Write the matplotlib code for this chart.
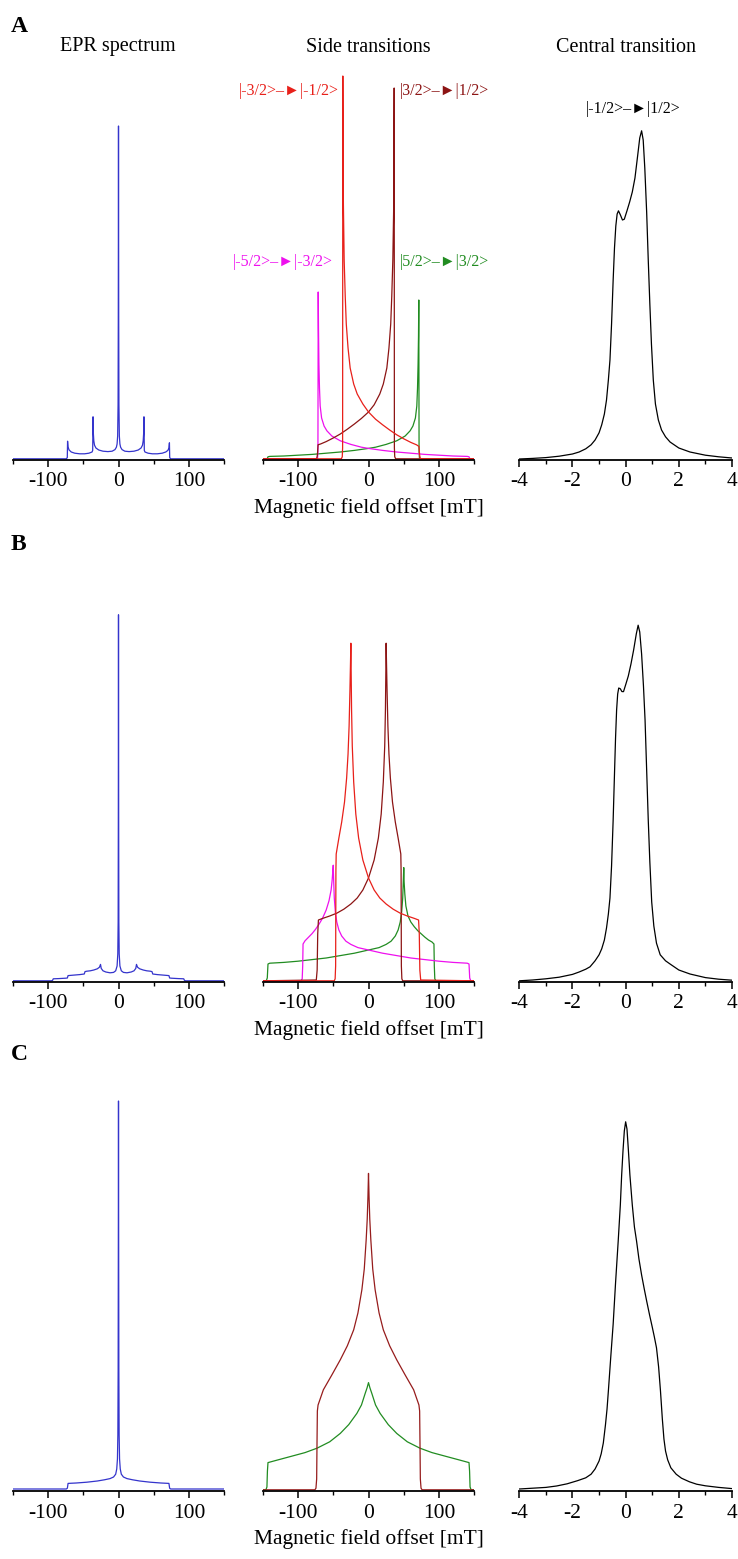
import matplotlib
matplotlib.use("Agg")
import matplotlib.pyplot as plt
from matplotlib.ticker import MultipleLocator

plt.rcParams['font.family'] = ['Liberation Serif', 'DejaVu Sans']
plt.rcParams['axes.unicode_minus'] = False

# ---------------- data (intensity in arbitrary units, field in mT) ----------------
# Row A
A_epr_x = [-150, -74, -72.6, -72.2, -71.5, -70, -67, -62, -55, -48, -42, -39, -37.5, -36.6, -36.1,
           -35.6, -35, -34, -32, -28, -22, -15, -9, -5, -3, -2, -1.2, -0.6, -0.3, 0,
           0.3, 0.6, 1.2, 2, 3, 5, 9, 15, 22, 28, 32, 34, 35, 35.6, 36.1, 36.6, 37.5,
           39, 42, 48, 55, 62, 67, 70, 71.5, 72.2, 72.6, 74, 150]
A_epr_y = [0.3, 0.3, 0.6, 4.7, 3.2, 2.5, 2.0, 1.7, 1.55, 1.55, 1.7, 1.9, 2.0, 2.4, 10.8,
           6.5, 4.8, 3.7, 3.0, 2.5, 2.2, 2.1, 2.2, 2.6, 3.2, 4.0, 6.0, 14, 35, 83.5,
           35, 14, 6.0, 4.0, 3.2, 2.6, 2.2, 2.1, 2.2, 2.5, 3.0, 3.7, 4.8, 6.5, 10.8, 2.4, 2.0,
           1.9, 1.7, 1.55, 1.55, 1.7, 2.0, 2.4, 3.0, 4.3, 0.6, 0.3, 0.3]

A_red_x = [-150, -38.5, -37.2, -36.7, -36.4, -36.1, -35.6, -34.5, -33, -31.5, -29, -26, -21, -16, -8, 0,
           10, 20, 30, 40, 50, 60, 68, 71.5, 72.5, 73.5, 150]
A_red_y = [0.3, 0.3, 0.8, 3, 96, 80, 64, 50, 41, 34, 28, 23, 19, 16.5, 14, 12,
           10.2, 8.8, 7.5, 6.3, 5.3, 4.4, 3.8, 3.4, 1.2, 0.3, 0.3]
A_dred_x = [-150, -73.5, -72.5, -71.5, -68, -60, -50, -40, -30, -20, -10, 0, 8, 16, 21, 26, 29,
            31.5, 33, 34.5, 35.6, 36.1, 36.4, 36.7, 37.2, 38.5, 150]
A_dred_y = [0.3, 0.3, 1.2, 3.8, 4.0, 4.6, 5.5, 6.5, 7.7, 9.0, 10.4, 12, 13.8, 16.5, 19, 23, 28,
            34, 41, 50, 62, 78, 93, 3, 0.8, 0.3, 0.3]
A_mag_x = [-150, -73.5, -72.2, -71.7, -71.3, -70.9, -70.3, -69.5, -68.5, -66.5, -63, -59, -52, -40,
           -25, -10, 0, 20, 40, 60, 80, 100, 120, 140, 142.5, 143.5, 144.5, 150]
A_mag_y = [0.3, 0.3, 0.6, 2, 42, 33, 24, 18, 13.5, 10.5, 8.5, 7.3, 6.0, 4.8,
           3.9, 3.2, 2.9, 2.4, 2.0, 1.7, 1.4, 1.2, 1.0, 0.9, 0.8, 0.4, 0.3, 0.3]
A_grn_x = [-150, -144.5, -143.5, -142.5, -140, -120, -100, -80, -60, -40, -20, 0, 10, 25, 40, 52,
           59, 63, 66.5, 68.5, 69.5, 70.3, 70.9, 71.3, 71.7, 72.2, 73.5, 150]
A_grn_y = [0.3, 0.3, 0.4, 0.8, 0.9, 1.0, 1.2, 1.4, 1.7, 2.0, 2.4, 2.9, 3.2, 3.9, 4.8, 6.0,
           7.3, 8.5, 10.5, 13.5, 18, 24, 31, 40, 2, 0.6, 0.3, 0.3]

A_ct_x = [-4, -3.5, -3, -2.5, -2, -1.75, -1.5, -1.3, -1.15, -1.0, -0.9, -0.8, -0.72, -0.65, -0.59,
          -0.53, -0.47, -0.42, -0.37, -0.32, -0.27, -0.2, -0.12, -0.05, 0.05, 0.15, 0.25, 0.35,
          0.45, 0.53, 0.6, 0.66, 0.72, 0.79, 0.85, 0.91, 0.97, 1.04, 1.12, 1.23, 1.35, 1.5, 1.67,
          2.0, 2.42, 3.0, 3.5, 4]
A_ct_y = [0.25, 0.4, 0.6, 0.95, 1.5, 2.0, 2.8, 3.8, 5.0, 6.8, 8.8, 11.5, 15, 20, 25,
          34, 45, 53, 58.5, 61.5, 62.3, 61.3, 60, 60.2, 62.3, 64.5, 67, 70.5,
          76, 80.5, 82.3, 80, 73, 62, 50, 39, 29, 20, 14, 10, 7.5, 5.8, 4.5,
          3.0, 2.0, 1.2, 0.8, 0.5]

# Row B
B_epr_x = [-150, -95, -93.5, -92.5, -85, -75, -72.5, -71.5, -65, -55, -48.5, -47.5, -45, -40, -35,
           -30, -27, -25.5, -24.5, -22, -18, -12, -7, -4, -2, -1, -0.5, -0.25, 0,
           0.25, 0.5, 1, 2, 4, 7, 12, 18, 22, 24.5, 25.5, 27, 30, 35, 40, 45, 47.5, 48.5,
           55, 65, 71.5, 72.5, 75, 85, 92.5, 93.5, 95, 150]
B_epr_y = [0.3, 0.3, 0.4, 0.8, 0.85, 0.95, 1.0, 1.6, 1.7, 1.85, 2.0, 2.6, 2.7, 2.8, 3.0,
           3.3, 3.7, 4.4, 3.4, 2.8, 2.5, 2.3, 2.4, 2.8, 4, 7, 15, 40, 91.8,
           40, 15, 7, 4, 2.8, 2.4, 2.3, 2.5, 2.8, 3.4, 4.4, 3.7, 3.3, 3.0, 2.8, 2.7, 2.6, 2.0,
           1.85, 1.7, 1.6, 1.0, 0.95, 0.85, 0.8, 0.4, 0.3, 0.3]

B_red_x = [-150, -48.5, -47.3, -46.6, -46.2, -45.8, -42, -38, -34, -31, -29, -27.5, -26.3, -25.5, -25,
           -24.5, -24, -23, -21, -18, -14, -8, 0, 8, 16, 25, 35, 45, 55, 65, 71, 72, 72.8, 74, 150]
B_red_y = [0.3, 0.3, 0.8, 4, 28, 32, 36, 40, 45, 51, 57, 64, 73, 80, 84.7,
           76, 68, 59, 50, 42, 36, 30.5, 26, 23, 21, 19.5, 18.2, 17.2, 16.5, 15.9, 15.5, 12, 3, 0.5, 0.3]
B_dred_x = [-150, -74, -72.8, -72, -71, -65, -55, -45, -35, -25, -16, -8, 0, 8, 14, 18, 21, 23, 24,
            24.5, 25, 25.5, 26.3, 27.5, 29, 31, 34, 38, 42, 45.8, 46.2, 46.6, 47.3, 48.5, 150]
B_dred_y = [0.3, 0.5, 3, 12, 15.5, 15.9, 16.5, 17.2, 18.2, 19.5, 21, 23, 26, 30.5, 36, 42, 50, 59, 68,
            76, 84.7, 80, 73, 64, 57, 51, 45, 40, 36, 32, 28, 4, 0.8, 0.3, 0.3]
B_mag_x = [-150, -95.5, -94, -93.3, -92.8, -90, -85, -80, -75, -70, -65, -60, -56, -53, -51.5, -50.5,
           -50, -49.5, -48.5, -47, -45, -42, -38, -32, -25, -15, 0, 20, 40, 60, 80, 100, 120, 140,
           142.5, 143.5, 145, 150]
B_mag_y = [0.3, 0.3, 0.8, 4, 9.5, 10.3, 11.2, 12.1, 13.2, 14.5, 16, 18, 20.3, 23, 25.5, 28,
           29.2, 26, 21, 17.5, 15, 13, 11.5, 10.2, 9.4, 8.6, 8.0, 7.2, 6.6, 6.0, 5.6, 5.2, 4.9, 4.7,
           4.5, 1, 0.3, 0.3]
B_grn_x = [-150, -145, -143.5, -142.5, -140, -120, -100, -80, -60, -40, -20, 0, 15, 25, 32, 38, 42,
           45, 47, 48.5, 49.5, 50, 50.5, 51.5, 53, 56, 60, 65, 70, 75, 80, 85, 90, 92.8, 93.3, 94,
           95.5, 150]
B_grn_y = [0.3, 0.3, 1, 4.5, 4.7, 4.9, 5.2, 5.6, 6.0, 6.6, 7.2, 8.0, 8.6, 9.4, 10.2, 11.5, 13,
           15, 17.5, 21, 26, 28.6, 25, 22, 19, 16.5, 15, 13.8, 12.8, 12.0, 11.2, 10.5, 10.0, 9.5, 4,
           0.8, 0.3, 0.3]

B_ct_x = [-4, -3.5, -3, -2.5, -2, -1.75, -1.5, -1.34, -1.15, -1.0, -0.9, -0.8, -0.72, -0.65, -0.59,
          -0.53, -0.47, -0.42, -0.38, -0.34, -0.3, -0.26, -0.2, -0.14, -0.08, 0, 0.1, 0.2, 0.3,
          0.4, 0.47, 0.53, 0.6, 0.67, 0.73, 0.79, 0.85, 0.91, 0.98, 1.06, 1.16, 1.3, 1.5, 1.67,
          2.0, 2.42, 3.0, 3.5, 4]
B_ct_y = [0.3, 0.5, 0.8, 1.2, 1.9, 2.5, 3.2, 3.8, 5.3, 6.8, 8.3, 10.5, 13.5, 17, 21,
          29, 40.5, 52, 61, 68, 72, 73.5, 73.3, 72.6, 72.6, 74.3, 76.5, 79.5, 83,
          87, 89.2, 87.5, 82, 74, 65.5, 53, 40.5, 30, 20, 14, 9.7, 6.8, 5.3, 4.5,
          3.0, 2.0, 1.1, 0.7, 0.45]

# Row C
C_epr_x = [-150, -74, -72.5, -71.5, -60, -45, -30, -20, -12, -7, -4, -2.5, -1.5, -0.9, -0.5, -0.25, 0,
           0.25, 0.5, 0.9, 1.5, 2.5, 4, 7, 12, 20, 30, 45, 60, 71.5, 72.5, 74, 150]
C_epr_y = [0.5, 0.5, 0.7, 1.9, 2.0, 2.2, 2.5, 2.8, 3.1, 3.5, 4.2, 5.5, 8, 14, 30, 60, 97.5,
           60, 30, 14, 8, 5.5, 4.2, 3.5, 3.1, 2.8, 2.5, 2.2, 2.0, 1.9, 0.7, 0.5, 0.5]

# |±3/2> -> |±1/2> coincide in C
C_in_x = [-150, -76, -74.5, -73.5, -73, -72.5, -71.5, -64, -52, -40, -30, -21, -15, -9.4, -6, -3.3,
          -1.8, -0.8, 0, 0.8, 1.8, 3.3, 6, 9.4, 15, 21, 30, 40, 52, 64, 71.5, 72.5, 73, 73.5, 74.5,
          76, 150]
C_in_y = [0.3, 0.3, 0.7, 3, 12, 20, 21.5, 25.3, 29, 32.8, 36.3, 40.3, 44.5, 50.3, 55.5, 62.8,
          68, 73.5, 79.4, 73.5, 68, 62.8, 55.5, 50.3, 44.5, 40.3, 36.3, 32.8, 29, 25.3, 21.5, 20, 12,
          3, 0.7, 0.3, 0.3]
# |±5/2> -> |±3/2> coincide in C
C_out_x = [-150, -145.5, -144, -143.3, -142.5, -130, -111, -90, -73, -55, -40, -28, -16.5, -10, -4.7,
           -2, 0, 2, 4.7, 10, 16.5, 28, 40, 55, 73, 90, 111, 130, 142.5, 143.3, 144, 145.5, 150]
C_out_y = [0.3, 0.3, 1, 5, 7.1, 7.7, 8.6, 9.6, 10.7, 12.3, 14.4, 16.6, 19.4, 21.5, 24.4,
           25.8, 27.1, 25.8, 24.4, 21.5, 19.4, 16.6, 14.4, 12.3, 10.7, 9.6, 8.6, 7.7, 7.1, 5, 1, 0.3,
           0.3]

C_ct_x = [-4, -3.5, -3, -2.6, -2.2, -1.8, -1.5, -1.3, -1.15, -1.0, -0.92, -0.84, -0.76, -0.7, -0.65,
          -0.56, -0.47, -0.38, -0.28, -0.2, -0.15, -0.1, -0.05, 0, 0.05, 0.1, 0.16, 0.25, 0.33,
          0.41, 0.5, 0.6, 0.7, 0.79, 0.9, 1.0, 1.08, 1.16, 1.24, 1.31, 1.38, 1.44, 1.5, 1.58,
          1.7, 1.9, 2.1, 2.4, 2.67, 3.0, 3.5, 4]
C_ct_y = [0.5, 0.7, 0.9, 1.25, 1.8, 2.6, 3.3, 4.2, 5.5, 7.5, 9.3, 12, 16.5, 20.5, 25,
          33.5, 41.7, 52, 62.5, 71.5, 79, 85, 90, 92.3, 90.5, 85.5, 79, 71.5, 66,
          62.5, 58, 54, 50.5, 47.5, 44, 41, 38.5, 35.8, 31, 25, 18, 13, 10, 7.8,
          5.8, 4.2, 3.2, 2.3, 1.7, 1.3, 0.9, 0.6]

BLUE = '#3434cc'
RED = '#e8201a'
DRED = '#8c1414'
MAG = '#ee10ee'
GRN = '#218c21'

W, H = 738, 1559
FS = 15.5
LW = 0.9

fig = plt.figure(figsize=(W / 100, H / 100), dpi=100)


def make_axes(x0, x1, ybase, wide=True):
    ax = fig.add_axes([x0 / W, (H - ybase) / H, (x1 - x0) / W, 400 / H])
    ax.patch.set_visible(False)
    for s in ['left', 'right', 'top']:
        ax.spines[s].set_visible(False)
    ax.spines['bottom'].set_linewidth(1.3)
    ax.set_yticks([])
    ax.set_ylim(0, 100)
    if wide:
        ax.set_xlim(-150, 150)
        ax.xaxis.set_major_locator(MultipleLocator(100))
        ax.xaxis.set_minor_locator(MultipleLocator(50))
    else:
        ax.set_xlim(-4, 4)
        ax.xaxis.set_major_locator(MultipleLocator(2))
        ax.xaxis.set_minor_locator(MultipleLocator(1))
    ax.tick_params(axis='x', which='major', direction='out', length=5, width=1.1,
                   labelsize=FS, pad=4)
    ax.tick_params(axis='x', which='minor', direction='out', length=3, width=1.0)
    return ax


cols = [(12.7, 224.3), (262.7, 474.3), (519.3, 732)]
bases = [460, 982, 1491]

# Row A
ax = make_axes(*cols[0], bases[0])
ax.plot(A_epr_x, A_epr_y, color=BLUE, lw=LW)
ax = make_axes(*cols[1], bases[0])
ax.plot(A_grn_x, A_grn_y, color=GRN, lw=LW)
ax.plot(A_mag_x, A_mag_y, color=MAG, lw=LW)
ax.plot(A_dred_x, A_dred_y, color=DRED, lw=LW)
ax.plot(A_red_x, A_red_y, color=RED, lw=LW)
ax.set_xlabel('Magnetic field offset [mT]', fontsize=FS, labelpad=5)
ax = make_axes(*cols[2], bases[0], wide=False)
ax.plot(A_ct_x, A_ct_y, color='k', lw=LW)

# Row B
ax = make_axes(*cols[0], bases[1])
ax.plot(B_epr_x, B_epr_y, color=BLUE, lw=LW)
ax = make_axes(*cols[1], bases[1])
ax.plot(B_grn_x, B_grn_y, color=GRN, lw=LW)
ax.plot(B_mag_x, B_mag_y, color=MAG, lw=LW)
ax.plot(B_dred_x, B_dred_y, color=DRED, lw=LW)
ax.plot(B_red_x, B_red_y, color=RED, lw=LW)
ax.set_xlabel('Magnetic field offset [mT]', fontsize=FS, labelpad=5)
ax = make_axes(*cols[2], bases[1], wide=False)
ax.plot(B_ct_x, B_ct_y, color='k', lw=LW)

# Row C (the +/- pairs lie on top of each other, only the upper colour shows)
ax = make_axes(*cols[0], bases[2])
ax.plot(C_epr_x, C_epr_y, color=BLUE, lw=LW)
ax = make_axes(*cols[1], bases[2])
ax.plot(C_out_x, C_out_y, color=GRN, lw=LW)
ax.plot(C_in_x, C_in_y, color='#961c1c', lw=LW)
ax.set_xlabel('Magnetic field offset [mT]', fontsize=FS, labelpad=5)
ax = make_axes(*cols[2], bases[2], wide=False)
ax.plot(C_ct_x, C_ct_y, color='k', lw=LW)


def ftext(px, py, s, **kw):
    fig.text(px / W, 1 - py / H, s, **kw)


# panel letters and column titles
for letter, py in [('A', 26), ('B', 545), ('C', 1055)]:
    ftext(11, py, letter, fontsize=17, fontweight='bold', ha='left', va='center')
ftext(118, 47, 'EPR spectrum', fontsize=14.5, ha='center', va='center')
ftext(368, 47, 'Side transitions', fontsize=14.5, ha='center', va='center')
ftext(626, 47, 'Central transition', fontsize=14.5, ha='center', va='center')

# transition labels
arrow = '\u2013\u25BA'
LFS = 11.5
ftext(289, 91, '|-3/2>' + arrow + '|-1/2>', color=RED, fontsize=LFS, ha='center', va='center')
ftext(444, 91, '|3/2>' + arrow + '|1/2>', color=DRED, fontsize=LFS, ha='center', va='center')
ftext(283, 262, '|-5/2>' + arrow + '|-3/2>', color=MAG, fontsize=LFS, ha='center', va='center')
ftext(444, 262, '|5/2>' + arrow + '|3/2>', color=GRN, fontsize=LFS, ha='center', va='center')
ftext(633, 109, '|-1/2>' + arrow + '|1/2>', color='k', fontsize=LFS, ha='center', va='center')

fig.savefig('out.png', dpi=100)
